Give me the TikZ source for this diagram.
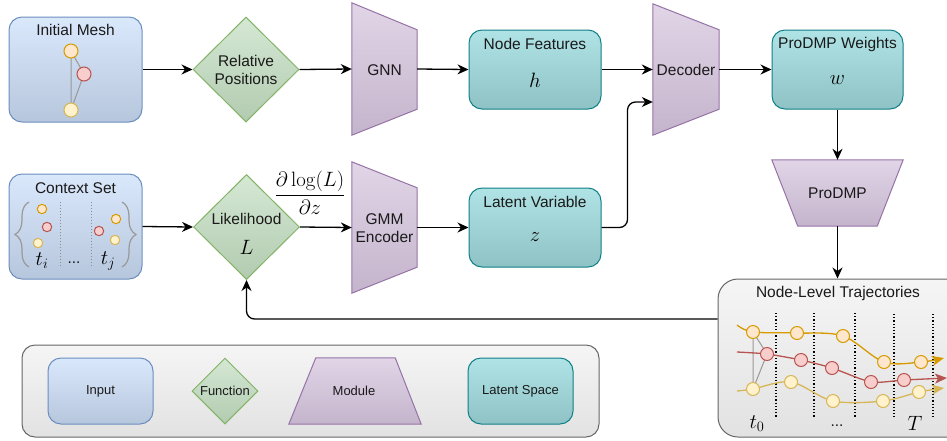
\documentclass[tikz,border=0pt]{standalone}
\usepackage{amsmath}
\usepackage[no-math]{fontspec}
\setmainfont{Liberation Sans}
\usetikzlibrary{arrows.meta,shapes.geometric,calc,decorations.pathreplacing}
\definecolor{inT}{HTML}{DAE8FC}\definecolor{inB}{HTML}{B6C6DC}\definecolor{inS}{HTML}{6C8EBF}
\definecolor{fnT}{HTML}{D5E8D4}\definecolor{fnB}{HTML}{B2CBB0}\definecolor{fnS}{HTML}{82B366}
\definecolor{mdT}{HTML}{E1D5E7}\definecolor{mdB}{HTML}{C4B4CC}\definecolor{mdS}{HTML}{9673A6}
\definecolor{ltT}{HTML}{B0E3E6}\definecolor{ltB}{HTML}{8EC2C5}\definecolor{ltS}{HTML}{0E8088}
\definecolor{gyT}{HTML}{F5F5F5}\definecolor{gyB}{HTML}{E2E2E2}\definecolor{gyS}{HTML}{666666}
\definecolor{oS}{HTML}{D79B00}\definecolor{oF}{HTML}{FFE6CC}
\definecolor{rS}{HTML}{B85450}\definecolor{rF}{HTML}{F8CECC}
\definecolor{yS}{HTML}{D6B656}\definecolor{yF}{HTML}{FFF2CC}
\definecolor{txtc}{HTML}{1A1A1A}
\pgfdeclarelayer{bg}\pgfsetlayers{bg,main}
\begin{document}
\begin{tikzpicture}[x=1pt,y=-1pt,
  txt/.style={font=\fontsize{15.5}{18.5}\selectfont, text=txtc, inner sep=0, align=center},
  mth/.style={font=\fontsize{20}{22}\selectfont, inner sep=0},
  lg/.style={font=\fontsize{13}{15}\selectfont, text=txtc, inner sep=0},
  inbox/.style={rectangle, rounded corners=13, draw=inS, line width=1pt, top color=inT, bottom color=inB, inner sep=0},
  ltbox/.style={rectangle, rounded corners=13, draw=ltS, line width=1pt, top color=ltT, bottom color=ltB, inner sep=0},
  fnbox/.style={diamond, aspect=1, draw=fnS, line width=1pt, top color=fnT, bottom color=fnB, inner sep=0},
  modframe/.style={rectangle, inner sep=0},
  modfill/.style={draw=mdS, line width=1pt, top color=mdT, bottom color=mdB},
  gybox/.style={rectangle, draw=gyS, line width=1pt, top color=gyT, bottom color=gyB, inner sep=0},
  arr/.style={line width=1.3pt, -{Stealth[length=11pt,width=10pt,inset=3.5pt]}},
  tarr/.style={line width=1.3pt, -{Stealth[length=12pt,width=10pt,inset=3pt]}},
  ecirc/.style={line width=1pt},
  glink/.style={draw=black!40, line width=1pt},
]
\path[use as bounding box] (0,0) rectangle (947,440);
\clip (0,0) rectangle (947,440);

% ---- inputs
\node[inbox, minimum width=133, minimum height=105] (mesh) at (75.5,69.5) {};
\node[txt] (meshT) at (75.5,30) {Initial Mesh};
\node[inbox, minimum width=133, minimum height=105] (ctx) at (75.5,226.5) {};
\node[txt] (ctxT) at (75.5,188) {Context Set};

% mesh graph
\draw[glink] (71,51) -- (71,110) (71,51) -- (84,74) -- (71,110);
\filldraw[ecirc, draw=oS, fill=oF] (71,51) circle (7);
\filldraw[ecirc, draw=rS, fill=rF] (84,74) circle (7);
\filldraw[ecirc, draw=yS, fill=yF] (71,110) circle (7);

% context set
\draw[black!40, line width=1.2pt, decorate, decoration={brace, amplitude=14pt}] (29,267) -- (29,202);
\draw[black!40, line width=1.2pt, decorate, decoration={brace, amplitude=14pt}] (122,202) -- (122,267);
\draw[black!45, line width=1pt, dotted] (60,202) -- (60,267) (91,202) -- (91,267);
\filldraw[ecirc, draw=oS, fill=oF] (42,209) circle (4.7);
\filldraw[ecirc, draw=rS, fill=rF] (47,227) circle (4.7);
\filldraw[ecirc, draw=yS, fill=yF] (38,243) circle (4.7);
\filldraw[ecirc, draw=oS, fill=oF] (116,219) circle (4.7);
\filldraw[ecirc, draw=rS, fill=rF] (99,231) circle (4.7);
\filldraw[ecirc, draw=yS, fill=yF] (115,240) circle (4.7);
\node[mth] (ti) at (42,261) {$t_i$};
\node[txt] (cdots) at (74,263) {...};
\node[mth] (tj) at (108,261) {$t_j$};

% ---- functions
\node[fnbox, minimum width=106, minimum height=105] (relpos) at (246,69.5) {};
\node[txt] (relposT) at (246,70) {Relative\\Positions};
\node[fnbox, minimum width=106, minimum height=105] (lik) at (246.5,227) {};
\node[txt] (likT) at (246.5,219) {Likelihood};
\node[mth] (likL) at (246.5,247) {$L$};

% ---- modules
\node[modframe, minimum width=65, minimum height=132] (gnn) at (384.5,69) {};
\node[modframe, minimum width=65, minimum height=131] (gmm) at (384.5,227.5) {};
\node[modframe, minimum width=66, minimum height=131] (dec) at (686,69.5) {};
\node[modframe, minimum width=131, minimum height=66] (prodmp) at (837.5,193) {};
\begin{pgfonlayer}{bg}
\shade[modfill] (gnn.north west) -- ($(gnn.north east)+(0,27)$) -- ($(gnn.south east)+(0,-26)$) -- (gnn.south west) -- cycle;
\shade[modfill] (gmm.north west) -- ($(gmm.north east)+(0,26)$) -- ($(gmm.south east)+(0,-26)$) -- (gmm.south west) -- cycle;
\shade[modfill] (dec.north west) -- ($(dec.north east)+(0,26)$) -- ($(dec.south east)+(0,-26)$) -- (dec.south west) -- cycle;
\shade[modfill] (prodmp.north west) -- (prodmp.north east) -- ($(prodmp.south east)+(-26,0)$) -- ($(prodmp.south west)+(26,0)$) -- cycle;
\end{pgfonlayer}
\node[txt] (gnnT) at (384.5,70) {GNN};
\node[txt] (gmmT) at (384.5,228) {GMM\\Encoder};
\node[txt] (decT) at (686,70) {Decoder};
\node[txt] (prodmpT) at (837.5,193) {ProDMP};

% ---- latent
\node[ltbox, minimum width=132, minimum height=79] (nf) at (535,69.5) {};
\node[txt] (nfT) at (535,44) {Node Features};
\node[mth] (nfh) at (535,80) {$h$};
\node[ltbox, minimum width=132, minimum height=79] (lv) at (535,227.5) {};
\node[txt] (lvT) at (535,202) {Latent Variable};
\node[mth] (lvz) at (535,237) {$z$};
\node[ltbox, minimum width=131, minimum height=79] (pw) at (837.5,69.5) {};
\node[txt] (pwT) at (837.5,44) {ProDMP Weights};
\node[mth] (pww) at (837.5,80) {$w$};

% ---- node-level trajectories
\node[gybox, rounded corners=20, minimum width=262, minimum height=158] (nlt) at (849,358) {};
\node[txt] (nltT) at (838,293) {Node-Level Trajectories};
\draw[black, line width=1.2pt, dotted] (776,313) -- (776,417) (814,313) -- (814,417) (855,313) -- (855,417) (894,314) -- (894,417) (933,314) -- (933,417);
\draw[glink] (753,332) -- (753,389) (753,332) -- (767,354) -- (753,389);
\draw[oS, tarr] plot[smooth, tension=0.55] coordinates {(737,325) (753,332) (797,333) (843,336) (884,362) (921,362) (944,358)};
\draw[rS, tarr] plot[smooth, tension=0.4] coordinates {(737,352) (767,354) (801,360) (832,368) (871,382) (904,380) (947,378)};
\draw[yS, tarr] plot[smooth, tension=0.55] coordinates {(737,391) (753,389) (791,382) (833,401) (883,401) (919,392) (944,388)};
\foreach \p in {(753,332),(797,333),(843,336),(884,362),(921,362)} \filldraw[ecirc, draw=oS, fill=oF] \p circle (6.5);
\foreach \p in {(767,354),(801,360),(832,368),(871,382),(904,380)} \filldraw[ecirc, draw=rS, fill=rF] \p circle (6.5);
\foreach \p in {(753,389),(791,382),(833,401),(883,401),(919,392)} \filldraw[ecirc, draw=yS, fill=yF] \p circle (6.5);
\node[mth] (t0) at (757,424) {$t_0$};
\node[txt] (tdots) at (837,426) {...};
\node[mth] (tT) at (915,423) {$T$};

% ---- fraction
\node[mth] (frac) at (310,193) {$\dfrac{\partial\log(L)}{\partial z}$};

% ---- connectors
\draw[arr] (mesh.east) -- (relpos.west);
\draw[arr] (relpos.east) -- (gnn.west);
\draw[arr] (gnn.east) -- (nf.west);
\draw[arr] (nf.east) -- (dec.west);
\draw[arr] (dec.east) -- (pw.west);
\draw[arr] (pw.south) -- (prodmp.north);
\draw[arr] (prodmp.south) -- (prodmp.south |- nlt.north);
\draw[arr] (ctx.east) -- (lik.west);
\draw[arr] (lik.east) -- (gmm.west);
\draw[arr] (gmm.east) -- (lv.west);
\draw[arr, rounded corners=8] (lv.east) -- ++(26,0) |- ($(dec.west)+(0,32.5)$);
\draw[arr, rounded corners=8] ($(nlt.west)+(0,-39)$) -| (lik.south);

% ---- legend
\node[gybox, rounded corners=13, minimum width=577, minimum height=92] (legend) at (310.5,391) {};
\node[inbox, minimum width=105, minimum height=66] (lgIn) at (100.5,391) {};
\node[lg] (lgInT) at (100.5,391) {Input};
\node[fnbox, minimum width=66, minimum height=66] (lgFn) at (225,391) {};
\node[lg] (lgFnT) at (225,391) {Function};
\node[modframe, minimum width=132, minimum height=66] (lgMd) at (355,391) {};
\shade[modfill] ($(lgMd.north west)+(27,0)$) -- ($(lgMd.north east)+(-26,0)$) -- (lgMd.south east) -- (lgMd.south west) -- cycle;
\node[lg] (lgMdT) at (354,391) {Module};
\node[ltbox, minimum width=105, minimum height=66] (lgLt) at (520.5,391) {};
\node[lg] (lgLtT) at (520.5,391) {Latent Space};
\end{tikzpicture}
\end{document}
